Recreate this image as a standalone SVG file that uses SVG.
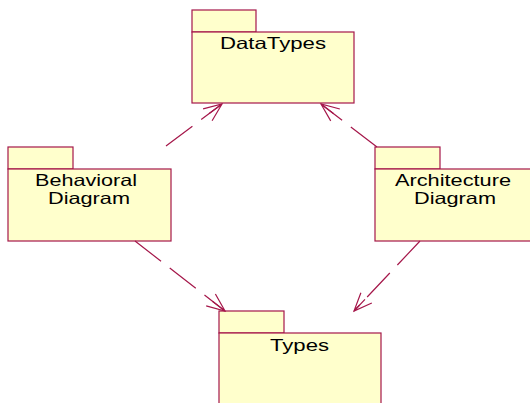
<svg xmlns="http://www.w3.org/2000/svg" width="530" height="403" viewBox="0 0 530 403">
<style>
.pk{fill:#FFFFCC;stroke:#A5174A;stroke-width:1.2}
.lb{font-family:"Liberation Sans",Arial,sans-serif;font-size:16.5px;fill:#000}
.dep{fill:none;stroke:#A5174A;stroke-width:1.2;stroke-dasharray:33 11}
</style>
<defs>
<marker id="open" markerUnits="userSpaceOnUse" markerWidth="24" markerHeight="24" viewBox="-20 -12 24 24" refX="0" refY="0" orient="auto">
<path d="M-18,-7.5 L0,0 L-18,7.5 M-16,0 L0,0" fill="none" stroke="#A5174A" stroke-width="1.2"/>
</marker>
</defs>
<rect width="530" height="403" fill="#fff"/>
<g id="DataTypes">
<rect class="pk" x="192" y="10" width="64" height="22"/>
<rect class="pk" x="192" y="32" width="162" height="71"/>
<text class="lb" x="220" y="49" textLength="106" lengthAdjust="spacingAndGlyphs">DataTypes</text>
</g>
<g id="BehavioralDiagram">
<rect class="pk" x="8" y="147" width="65" height="22"/>
<rect class="pk" x="8" y="169" width="163" height="72"/>
<text class="lb" x="35" y="186" textLength="102" lengthAdjust="spacingAndGlyphs">Behavioral</text>
<text class="lb" x="48" y="204" textLength="82" lengthAdjust="spacingAndGlyphs">Diagram</text>
</g>
<g id="ArchitectureDiagram">
<rect class="pk" x="375" y="147" width="65" height="22"/>
<rect class="pk" x="375" y="169" width="163" height="72"/>
<text class="lb" x="395" y="186" textLength="116" lengthAdjust="spacingAndGlyphs">Architecture</text>
<text class="lb" x="414" y="204" textLength="82" lengthAdjust="spacingAndGlyphs">Diagram</text>
</g>
<g id="Types">
<rect class="pk" x="219" y="311" width="65" height="22"/>
<rect class="pk" x="219" y="333" width="162" height="80"/>
<text class="lb" x="270" y="351" textLength="59" lengthAdjust="spacingAndGlyphs">Types</text>
</g>
<g id="connectors">
<line class="dep" x1="166" y1="146" x2="222" y2="104" marker-end="url(#open)"/>
<line class="dep" x1="377" y1="147" x2="321" y2="104" marker-end="url(#open)"/>
<line class="dep" x1="135" y1="241" x2="225" y2="311" marker-end="url(#open)"/>
<line class="dep" x1="420" y1="241" x2="354" y2="311" marker-end="url(#open)"/>
</g>
</svg>
